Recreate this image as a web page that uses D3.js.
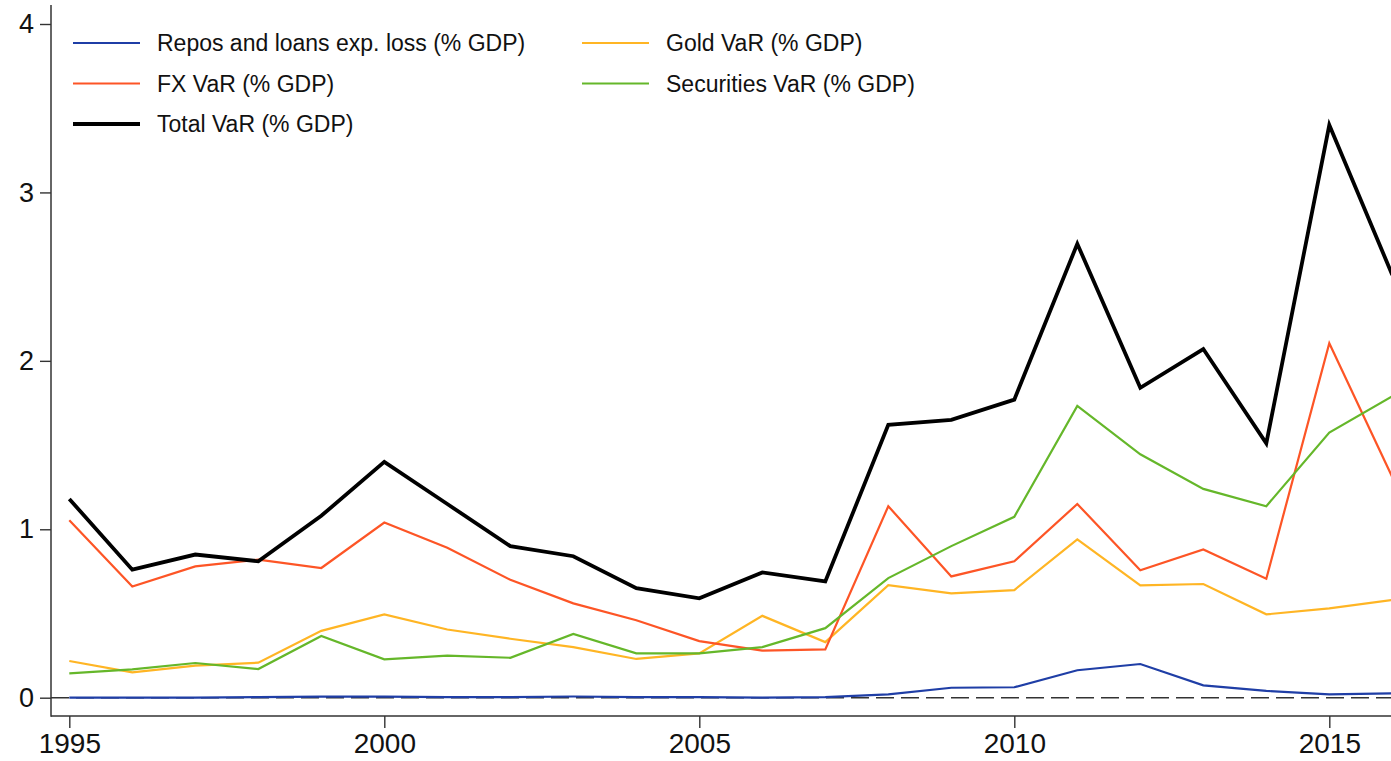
<!DOCTYPE html>
<html>
<head>
<meta charset="utf-8">
<script src="https://cdn.jsdelivr.net/npm/d3@7"></script>
<style>
  html, body { margin: 0; padding: 0; background: #fff; }
  svg { display: block; font-family: "Liberation Sans", Arial, Helvetica, sans-serif; }
</style>
</head>
<body>
<svg id="chart" width="1391" height="761"></svg>
<script>
// Central bank balance-sheet risk, 1995-2016 (% of GDP)
const years = d3.range(1995, 2017);

const repos = [0.000, 0.000, 0.000, 0.004, 0.006, 0.006, 0.004, 0.004, 0.007, 0.003, 0.003, 0.001, 0.003,
               0.020, 0.059, 0.062, 0.163, 0.200, 0.073, 0.040, 0.020, 0.026];
const fx    = [1.054, 0.660, 0.780, 0.820, 0.770, 1.040, 0.890, 0.700, 0.560, 0.460, 0.336, 0.280, 0.287,
               1.137, 0.720, 0.810, 1.150, 0.757, 0.880, 0.706, 2.105, 1.310];
const total = [1.180, 0.760, 0.850, 0.810, 1.080, 1.400, 1.150, 0.900, 0.840, 0.650, 0.590, 0.744, 0.690,
               1.620, 1.650, 1.770, 2.695, 1.840, 2.070, 1.510, 3.400, 2.510];
const gold  = [0.218, 0.150, 0.190, 0.208, 0.397, 0.495, 0.405, 0.350, 0.300, 0.230, 0.263, 0.486, 0.330,
               0.668, 0.619, 0.639, 0.940, 0.667, 0.675, 0.495, 0.530, 0.580];
const secs  = [0.145, 0.168, 0.206, 0.170, 0.366, 0.228, 0.250, 0.237, 0.378, 0.263, 0.263, 0.300, 0.413,
               0.710, 0.900, 1.074, 1.732, 1.445, 1.240, 1.137, 1.574, 1.790];

const yTicks = [0, 1, 2, 3, 4];
const xTicks = [1995, 2000, 2005, 2010, 2015];

const series = [
  { name: "Repos and loans exp. loss (% GDP)", values: repos, color: "#1f3ea6", width: 2.2 },
  { name: "Gold VaR (% GDP)",                  values: gold,  color: "#ffb524", width: 2.2 },
  { name: "FX VaR (% GDP)",                    values: fx,    color: "#fd5526", width: 2.2 },
  { name: "Securities VaR (% GDP)",            values: secs,  color: "#65b72a", width: 2.2 },
  { name: "Total VaR (% GDP)",                 values: total, color: "#000000", width: 3.8 }
];

const svg = d3.select("#chart");

const x = d3.scaleLinear().domain([1995, 2016]).range([69.3, 1392.3]);
const y = d3.scaleLinear().domain([0, 4]).range([697.7, 24]);

const axisX = 51, axisY = 716;
const axisColor = "#333";

// y axis
const gy = svg.append("g")
  .attr("transform", `translate(${axisX},0)`)
  .call(d3.axisLeft(y).tickValues(yTicks).tickFormat(d3.format("d")).tickSize(11).tickPadding(6));
gy.select(".domain").remove();
gy.selectAll(".tick line").attr("stroke", axisColor).attr("stroke-width", 1.4);
gy.selectAll(".tick text").attr("font-size", 27).attr("fill", "#111")
  .attr("font-family", "'Liberation Sans', Arial, sans-serif");

// x axis
const gx = svg.append("g")
  .attr("transform", `translate(0,${axisY})`)
  .call(d3.axisBottom(x).tickValues(xTicks).tickFormat(d3.format("d")).tickSize(12).tickPadding(5));
gx.select(".domain").remove();
gx.selectAll(".tick line").attr("stroke", axisColor).attr("stroke-width", 1.4);
gx.selectAll(".tick text").attr("font-size", 28).attr("fill", "#111")
  .attr("font-family", "'Liberation Sans', Arial, sans-serif");

// axis lines
svg.append("line").attr("x1", axisX).attr("x2", axisX).attr("y1", 5).attr("y2", axisY + 0.7)
  .attr("stroke", axisColor).attr("stroke-width", 1.5);
svg.append("line").attr("x1", axisX).attr("x2", 1391).attr("y1", axisY).attr("y2", axisY)
  .attr("stroke", axisColor).attr("stroke-width", 1.5);

// zero reference line
svg.append("line").attr("x1", axisX).attr("x2", 1391).attr("y1", y(0)).attr("y2", y(0))
  .attr("stroke", "#333").attr("stroke-width", 1.6).attr("stroke-dasharray", "18,7");

// series lines
const line = d3.line().x((d, i) => x(years[i])).y(d => y(d));
svg.append("g").selectAll("path")
  .data(series)
  .join("path")
  .attr("d", s => line(s.values))
  .attr("fill", "none")
  .attr("stroke", s => s.color)
  .attr("stroke-width", s => s.width)
  .attr("stroke-linejoin", "miter");

// legend: two columns
const legendPos = [
  { col: 0, row: 0 }, { col: 1, row: 0 },
  { col: 0, row: 1 }, { col: 1, row: 1 },
  { col: 0, row: 2 }
];
const colX = [73, 582];
const rowY = [43, 83.5, 124];
const lg = svg.append("g");
series.forEach((s, i) => {
  const p = legendPos[i];
  const lx = colX[p.col], ly = rowY[p.row];
  lg.append("line").attr("x1", lx).attr("x2", lx + 67).attr("y1", ly).attr("y2", ly)
    .attr("stroke", s.color).attr("stroke-width", s.width);
  lg.append("text").attr("x", lx + 84).attr("y", ly).attr("dy", "0.35em")
    .attr("font-size", 23).attr("fill", "#111").text(s.name);
});
</script>
</body>
</html>
